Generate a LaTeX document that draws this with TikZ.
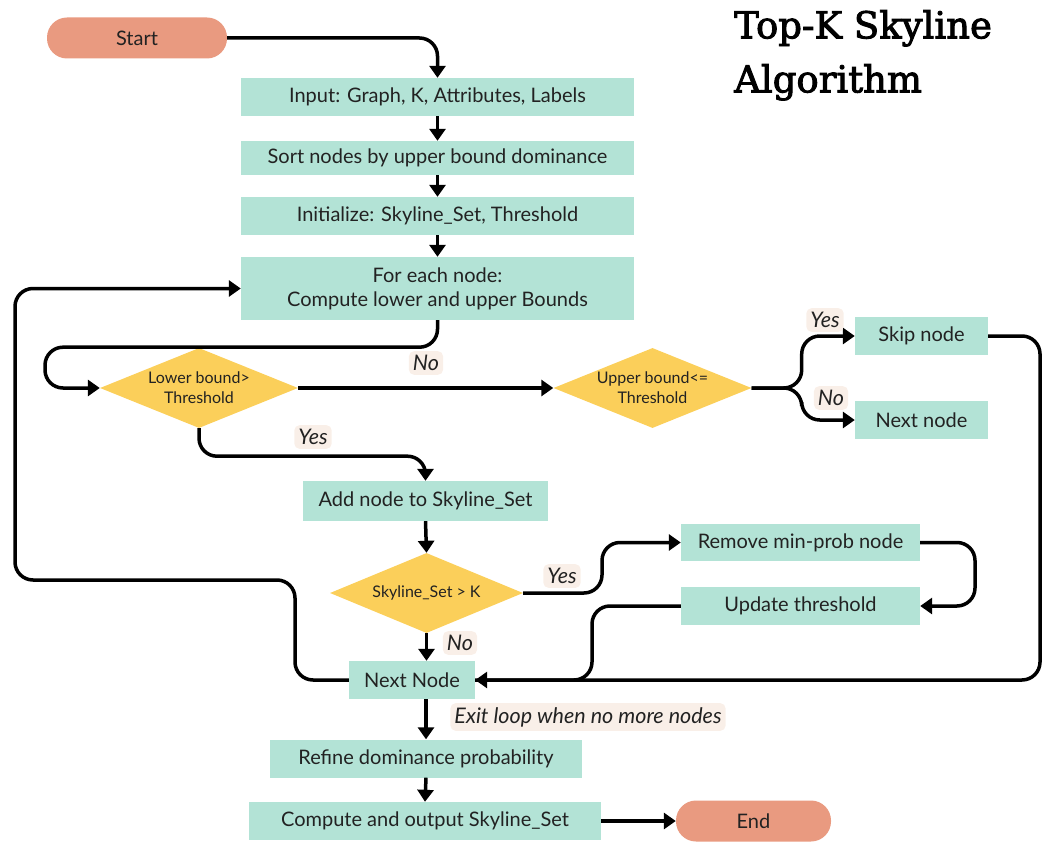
\documentclass[tikz,border=0pt]{standalone}
\usepackage{fontspec}
\setmainfont{Lato}
\newfontfamily\titlefont[FakeBold=2.5]{DejaVu Serif}
\usetikzlibrary{arrows.meta,positioning,shapes.geometric}
\tikzset{every picture/.style={
  >={Triangle[length=12pt,width=16pt]}   % Filled flowchart arrows.
  }
}
\definecolor{boxgreen}{HTML}{B3E3D6}
\definecolor{startred}{HTML}{E99A80}
\definecolor{testyellow}{HTML}{FBCF5A}
\definecolor{tagpeach}{HTML}{F9EFE8}
\definecolor{inkgrey}{HTML}{222222}

\begin{document}
\begin{tikzpicture}[x=1pt,y=-1pt,
  font=\fontsize{20}{24}\selectfont, text=inkgrey,
  process/.style={rectangle, fill=boxgreen, minimum height=38pt,
    inner sep=0pt, align=center},
  terminal/.style={rectangle, rounded corners=20pt, fill=startred,
    minimum height=41pt, inner sep=0pt},
  test/.style={diamond, fill=testyellow, inner sep=0pt, aspect=2.5,
    minimum width=198pt, minimum height=80pt, align=center,
    font=\fontsize{16}{20}\selectfont},
  tag/.style={fill=tagpeach, rounded corners=5pt, inner sep=4pt,
    font=\fontsize{21.5}{25}\selectfont\itshape},
  flow/.style={line width=3.5pt, rounded corners=18pt}]
  \useasboundingbox (0,0) rectangle (1043,842);

  % title
  \node[anchor=north west, align=left, inner sep=0pt, text=black,
    font=\titlefont\fontsize{37}{54}\selectfont] (title) at (734,10)
    {Top-K Skyline\\Algorithm};

  % main column
  \node[terminal, minimum width=180pt] (start) at (137,38) {Start};
  \node[process, minimum width=393pt] (input) at (437.5,97) {Input: Graph, K, Attributes, Labels};
  \node[process, minimum width=393pt, minimum height=34pt] (sort) at (437.5,158) {Sort nodes by upper bound dominance};
  \node[process, minimum width=393pt] (init) at (437.5,216) {Initialize: Skyline\_Set, Threshold};
  \node[process, minimum width=393pt, minimum height=63pt] (loop) at (437.5,288.5) {For each node:\\Compute lower and upper Bounds};
  \node[test] (lower) at (199,388) {Lower bound>\\Threshold};
  \node[test] (upper) at (652.5,388) {Upper bound<=\\Threshold};
  \node[process, minimum width=133pt] (skip) at (921.5,336) {Skip node};
  \node[process, minimum width=133pt] (next) at (921.5,420) {Next node};
  \node[process, minimum width=245pt, minimum height=40pt] (add) at (425.5,501) {Add node to Skyline\_Set};
  \node[test, minimum width=193pt] (over) at (426.5,593) {Skyline\_Set > K};
  \node[process, minimum width=239pt, minimum height=37pt] (remove) at (800.5,542.5) {Remove min-prob node};
  \node[process, minimum width=239pt] (update) at (800.5,606) {Update threshold};
  \node[process, minimum width=126pt] (nextnode) at (412,680) {Next Node};
  \node[process, minimum width=312pt] (refine) at (426,758.5) {Refine dominance probability};
  \node[process, minimum width=352pt] (output) at (425,821) {Compute and output Skyline\_Set};
  \node[terminal, minimum width=155pt] (end) at (753.5,821) {End};

  % connectors
  \draw[flow,->] (start.east) -| (input.north);
  \foreach \a/\b in {input/sort, sort/init, init/loop, add/over, refine/output}
    \draw[flow,->] (\a.south) -- (\b.north);
  \draw[flow,->] (loop.south) -- ++(0,27) -| (45,388) -- (lower.west);
  \draw[flow,->] (lower.east) -- (upper.west);
  \draw[flow,->] (lower.south) -- ++(0,28) -| (add.north);
  \draw[flow,->] (upper.east) -- ++(50,0) |- (skip.west);
  \draw[flow,->] (upper.east) -- ++(50,0) |- (next.west);
  \draw[flow,->] (skip.east) -- (1040,336) |- (nextnode.east);
  \draw[flow,->] (over.east) -- (602,593) |- (remove.west);
  \draw[flow,->] (remove.east) -- (975,542.5) |- (update.east);
  \draw[flow] (update.west) -- (592,606) |- (nextnode.east);
  \draw[flow,->] (over.south) -- (over.south |- nextnode.north);
  \draw[flow,->] (nextnode.west) -- (295,680) |- (15,580) |- (loop.west);
  \draw[flow,->] (refine.north |- nextnode.south) -- (refine.north);
  \draw[flow,->] (output) -- (end);

  % answers on the connectors
  \node[tag] (no1) at (426,363) {No};
  \node[tag] (yes1) at (313,437) {Yes};
  \node[tag] (yes2) at (825,320) {Yes};
  \node[tag] (no2) at (831,398) {No};
  \node[tag] (yes3) at (562,576) {Yes};
  \node[tag] (no3) at (460,643) {No};
  \node[tag] (exit) at (588,717) {Exit loop when no more nodes};
\end{tikzpicture}
\end{document}
